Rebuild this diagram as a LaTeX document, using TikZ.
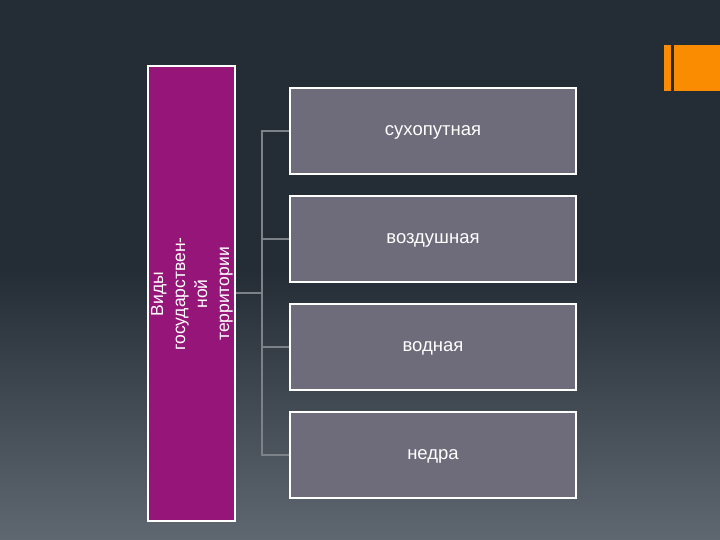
\documentclass[tikz,border=0pt]{standalone}
\usepackage{fontspec}
\setmainfont{Liberation Sans}
\definecolor{bgtop}{HTML}{242D36}
\definecolor{bgbot}{HTML}{5F6870}
\definecolor{purplebox}{HTML}{951578}
\definecolor{greybox}{HTML}{6E6B7B}
\definecolor{conn}{HTML}{7C8287}
\definecolor{accent}{HTML}{F98C00}
\tikzset{
  catbox/.style={draw=white, line width=2pt, fill=greybox, minimum width=286pt, minimum height=86pt, inner sep=0pt, text=white, text depth=0pt, font=\fontsize{18.5}{22}\selectfont},
  headbox/.style={draw=white, line width=2pt, fill=purplebox, minimum width=87pt, minimum height=455pt, inner sep=0pt},
  headtext/.style={rotate=90, align=center, text=white, font=\fontsize{17.5}{22}\selectfont},
  connline/.style={draw=conn, line width=2.4pt}
}
\begin{document}
\begin{tikzpicture}[x=1pt,y=-1pt]
\useasboundingbox (0,0) rectangle (720,540);
\fill[bgtop] (0,0) rectangle (720,271);
\shade[top color=bgtop, bottom color=bgbot] (0,270) rectangle (720,540);
\fill[accent] (664,45) rectangle (671,91);
\fill[accent] (674,45) rectangle (720,91);

\node[headbox] (p) at (191.5,293.5) {};
\node[headtext] (pt) at (192,294) {Виды\\государствен-\\ной\\территории};

\node[catbox] (b1) at (433,131) {сухопутная};
\node[catbox] (b2) at (433,239) {воздушная};
\node[catbox] (b3) at (433,347) {водная};
\node[catbox] (b4) at (433,455) {недра};

\coordinate (j) at (262,293);
\draw[connline] (p.east |- j) -- (j);
\draw[connline] (b1.west) -- (b1.west -| j) -- (b4.west -| j) -- (b4.west);
\draw[connline] (b2.west) -- (b2.west -| j);
\draw[connline] (b3.west) -- (b3.west -| j);
\end{tikzpicture}
\end{document}
